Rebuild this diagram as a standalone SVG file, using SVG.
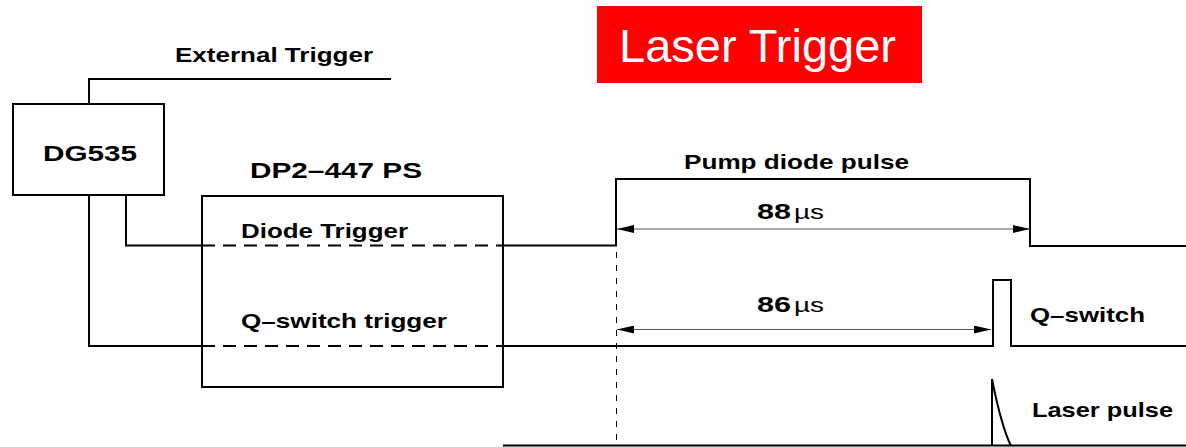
<svg xmlns="http://www.w3.org/2000/svg" width="1186" height="447" viewBox="0 0 1186 447">
<defs>
<style>
.ln{fill:none;stroke:#000;stroke-width:2}
.dash{fill:none;stroke:#000;stroke-width:2;stroke-dasharray:13 8}
.vdash{fill:none;stroke:#000;stroke-width:1;stroke-dasharray:6 7}
.dim{fill:none;stroke:#555;stroke-width:1.2}
.t{font-family:"Liberation Sans",Arial,sans-serif;font-weight:bold;font-size:21px;fill:#000}
.big{font-size:22px}
.mu{font-family:"Liberation Sans",Arial,sans-serif;font-weight:normal;font-size:21px;fill:#000}
</style>
<marker id="ah" viewBox="0 0 17 8" refX="17" refY="4" markerWidth="17" markerHeight="8" markerUnits="userSpaceOnUse" orient="auto-start-reverse">
<path d="M0,0 L17,4 L0,8 Z" fill="#000"/>
</marker>
</defs>
<rect width="1186" height="447" fill="#fff"/>

<g id="title">
<rect x="597" y="6" width="325" height="77" fill="#ff0000"/>
<text x="619" y="62" font-family="'Liberation Sans',Arial,sans-serif" font-size="47" fill="#fff" textLength="277" lengthAdjust="spacingAndGlyphs">Laser Trigger</text>
</g>

<g id="dg535">
<rect class="ln" x="13" y="104" width="151" height="91"/>
<text class="t big" x="43" y="161" textLength="94" lengthAdjust="spacingAndGlyphs">DG535</text>
</g>

<g id="ps">
<rect class="ln" x="202" y="196" width="301" height="191"/>
<text class="t big" x="250" y="178" textLength="172" lengthAdjust="spacingAndGlyphs">DP2–447 PS</text>
</g>

<g id="connectors">
<polyline class="ln" points="89,104 89,79 391,79"/>
<polyline class="ln" points="126,195 126,245.5 202,245.5"/>
<line class="dash" x1="202" y1="245.5" x2="503" y2="245.5"/>
<polyline class="ln" points="503,245.5 616,245.5 616,179 1030,179 1030,246 1186,246"/>
<polyline class="ln" points="89,195 89,346 202,346"/>
<line class="dash" x1="202" y1="346" x2="503" y2="346"/>
<polyline class="ln" points="503,346 993,346 993,280 1011,280 1011,346 1186,346"/>
<line class="ln" x1="503" y1="445.5" x2="1186" y2="445.5"/>
<path class="ln" d="M992,446 L992,379 Q1001,425 1011,446"/>
<line class="vdash" x1="616.5" y1="252" x2="616.5" y2="447"/>
<line class="dim" x1="617" y1="229" x2="1030" y2="229" marker-start="url(#ah)" marker-end="url(#ah)"/>
<line class="dim" x1="617" y1="329.5" x2="991" y2="329.5" marker-start="url(#ah)" marker-end="url(#ah)"/>
</g>

<g id="labels">
<text class="t" x="175" y="62" textLength="198" lengthAdjust="spacingAndGlyphs">External Trigger</text>
<text class="t" x="241" y="238" textLength="167" lengthAdjust="spacingAndGlyphs">Diode Trigger</text>
<text class="t" x="241" y="328" textLength="206" lengthAdjust="spacingAndGlyphs">Q–switch trigger</text>
<text class="t" x="684" y="169" textLength="225" lengthAdjust="spacingAndGlyphs">Pump diode pulse</text>
<text class="t big" x="757" y="219" textLength="34" lengthAdjust="spacingAndGlyphs">88</text>
<text class="mu" x="794" y="219" textLength="30" lengthAdjust="spacingAndGlyphs">µs</text>
<text class="t big" x="757" y="312" textLength="34" lengthAdjust="spacingAndGlyphs">86</text>
<text class="mu" x="794" y="312" textLength="30" lengthAdjust="spacingAndGlyphs">µs</text>
<text class="t" x="1030" y="322" textLength="115" lengthAdjust="spacingAndGlyphs">Q–switch</text>
<text class="t" x="1032" y="417" textLength="141" lengthAdjust="spacingAndGlyphs">Laser pulse</text>
</g>
</svg>
